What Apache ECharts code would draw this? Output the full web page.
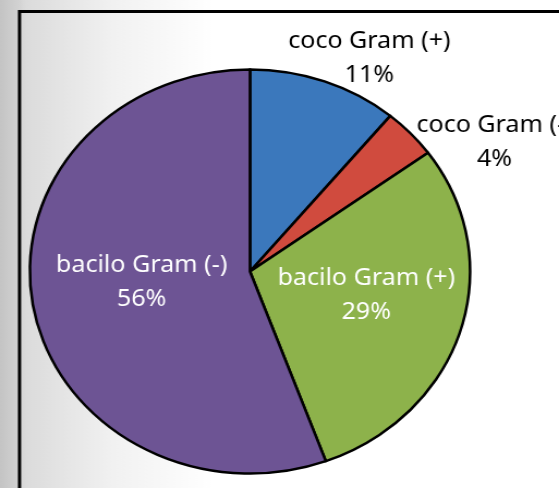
<!DOCTYPE html>
<html>
<head>
<meta charset="utf-8">
<script src="https://cdn.jsdelivr.net/npm/echarts@6/dist/echarts.min.js"></script>
<style>
html,body{margin:0;padding:0;width:559px;height:488px;overflow:hidden;background:#fff;}
#wrap{width:559px;height:488px;overflow:hidden;}
#chart{width:513px;height:488px;transform:scaleX(1.08967);transform-origin:0 0;}
</style>
</head>
<body>
<div id="wrap"><div id="chart"></div></div>
<script>
// ---- data ----
const categories = ['coco Gram (+)', 'coco Gram (-)', 'bacilo Gram (+)', 'bacilo Gram (-)'];
const values = [11, 4, 29.4, 55.6];
const colors = ['#3b78bc', '#d04b3e', '#8db24b', '#6d5494'];

// ---- label placement (style only) ----
const labelInside = [false, false, true, true];
const labelLen = [24, -12.8, -119.2, -140.6];
const labelBoxW = [66, 173, 55, 78];

const chart = echarts.init(document.getElementById('chart'), null, {renderer: 'canvas'});

const seriesData = categories.map(function (name, i) {
  const txtColor = labelInside[i] ? '#ffffff' : '#000000';
  return {
    name: name,
    value: values[i],
    itemStyle: {color: colors[i]},
    label: {
      show: true,
      position: 'outside',
      width: labelBoxW[i],
      overflow: 'none',
      distanceToLabelLine: 0,
      formatter: function (p) { return '{t|' + p.name + '}\n{t|' + Math.round(p.percent) + '%}'; },
      rich: {
        t: {width: labelBoxW[i], align: 'center', color: txtColor, fontSize: 23, lineHeight: 34, fontFamily: 'Noto Sans'}
      }
    },
    labelLine: {show: false, length: labelLen[i], length2: 0}
  };
});

chart.setOption({
  animation: false,
  backgroundColor: new echarts.graphic.LinearGradient(0, 0, 1, 0, [
    {offset: 0, color: '#c4c4c4'},
    {offset: 0.035, color: '#d3d3d3'},
    {offset: 0.045, color: '#dbdbdb'},
    {offset: 0.2, color: '#f1f1f1'},
    {offset: 0.38, color: '#ffffff'},
    {offset: 1, color: '#ffffff'}
  ]),
  graphic: [{
    type: 'rect',
    z: -1,
    shape: {x: 17.9, y: 11.5, width: 700, height: 700},
    style: {fill: null, stroke: '#000000', lineWidth: 3}
  }],
  series: [{
    type: 'pie',
    center: [229.4, 271.5],
    radius: [0, 202],
    startAngle: 90,
    clockwise: true,
    avoidLabelOverlap: false,
    itemStyle: {borderColor: '#000000', borderWidth: 2.5},
    emphasis: {disabled: true},
    label: {fontFamily: 'Noto Sans', fontSize: 23},
    data: seriesData
  }]
});
</script>
</body>
</html>
